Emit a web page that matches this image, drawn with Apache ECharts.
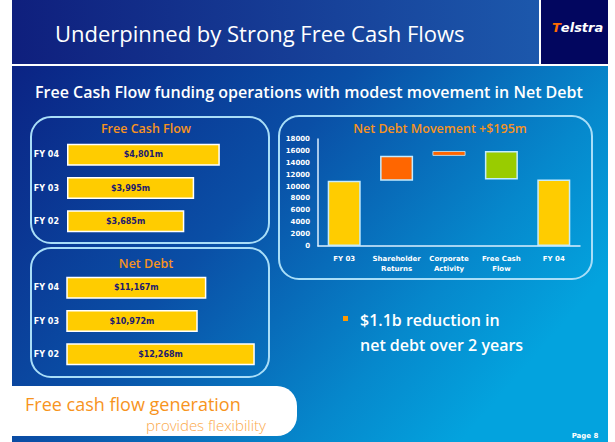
<!DOCTYPE html>
<html>
<head>
<meta charset="utf-8">
<script src="https://cdn.jsdelivr.net/npm/echarts@6/dist/echarts.min.js"></script>
<style>html,body{margin:0;padding:0;background:#fff}#c{width:615px;height:442px}</style>
</head>
<body>
<div id="c"></div>
<script>
// ---- data ----
const fcfCategories = ['FY 02', 'FY 03', 'FY 04'];
const fcfValues = [3685, 3995, 4801];
const netDebtCategories = ['FY 02', 'FY 03', 'FY 04'];
const netDebtValues = [12268, 10972, 11167];
const wfCategories = ['FY 03', 'Shareholder\nReturns', 'Corporate\nActivity', 'Free Cash\nFlow', 'FY 04'];
const wfValues = [10972, 4200, 796, 4801, 11167];
const wfKinds = ['total', 'increase', 'increase', 'decrease', 'total'];
const wfColors = ['#FFCC00', '#FF6600', '#FF6600', '#99CC00', '#FFCC00'];
const wfTicks = { min: 0, max: 18000, interval: 2000 };

// waterfall base from running total
const wfBase = [];
let running = 0;
wfValues.forEach((v, i) => {
  if (wfKinds[i] === 'total') { wfBase.push(0); running = v; }
  else if (wfKinds[i] === 'increase') { wfBase.push(running); running += v; }
  else { running -= v; wfBase.push(running); }
});

const money = v => '$' + v.toLocaleString('en-US') + 'm';
const BOLD = 'DejaVu Sans';
const SANS = 'Open Sans';

const chart = echarts.init(document.getElementById('c'), null, { renderer: 'svg' });

const bgGrad = { type: 'linear', x: 0, y: 0, x2: 1, y2: 0.55, colorStops: [
  { offset: 0, color: '#0b2384' }, { offset: 0.45, color: '#0a4fa6' },
  { offset: 0.8, color: '#0688cc' }, { offset: 1, color: '#03a3de' }] };
const titleGrad = { type: 'linear', x: 0, y: 0, x2: 1, y2: 0, colorStops: [
  { offset: 0, color: '#0f1f7d' }, { offset: 1, color: '#1c58ac' }] };
const panelStroke = { fill: 'none', stroke: '#a9def8', lineWidth: 2 };

function catAxis(grid, data) {
  return { type: 'category', gridIndex: grid, data: data,
    axisLine: { show: false }, axisTick: { show: false },
    axisLabel: { color: '#fff', fontFamily: BOLD, fontWeight: 'bold', fontSize: 8, margin: 8 } };
}
function hbar(axisIdx, values) {
  return { type: 'bar', xAxisIndex: axisIdx, yAxisIndex: axisIdx, data: values, barWidth: 22,
    itemStyle: { color: '#FFCC00', borderColor: '#ffffff', borderWidth: 1.5 },
    label: { show: true, position: 'inside', formatter: p => money(p.value),
      color: '#221a6e', fontFamily: BOLD, fontWeight: 'bold', fontSize: 8 } };
}

const option = {
  animation: false,
  backgroundColor: '#ffffff',
  graphic: [
    { type: 'rect', z: -10, shape: { x: 12, y: 0, width: 527, height: 64 }, style: { fill: titleGrad } },
    { type: 'rect', z: -10, shape: { x: 541, y: 0, width: 67, height: 64 }, style: { fill: '#02065f' } },
    { type: 'rect', z: -10, shape: { x: 12, y: 66, width: 596, height: 376 }, style: { fill: bgGrad } },
    { type: 'rect', z: -5, shape: { x: 31, y: 117, width: 238, height: 126, r: 20 }, style: panelStroke },
    { type: 'rect', z: -5, shape: { x: 31, y: 248, width: 238, height: 129, r: 20 }, style: panelStroke },
    { type: 'rect', z: -5, shape: { x: 279, y: 116, width: 313, height: 163, r: 20 }, style: panelStroke },
    { type: 'rect', z: -5, shape: { x: 12, y: 386, width: 285, height: 50, r: [0, 20, 20, 0] }, style: { fill: '#ffffff' } },
    { type: 'text', z: 10, style: { text: 'Underpinned by Strong Free Cash Flows', x: 55, y: 33,
      fill: '#ffffff', fontFamily: SANS, fontSize: 22, verticalAlign: 'middle' } },
    { type: 'text', z: 10, style: { text: '{t|T}{e|elstra}', x: 552, y: 27, verticalAlign: 'middle',
      fontFamily: 'DejaVu Sans', fontSize: 13, fontWeight: 'bold', fontStyle: 'italic',
      rich: { t: { fill: '#FF6a00', fontSize: 13, fontWeight: 'bold', fontStyle: 'italic', fontFamily: 'DejaVu Sans' },
              e: { fill: '#ffffff', fontSize: 13, fontWeight: 'bold', fontStyle: 'italic', fontFamily: 'DejaVu Sans' } } } },
    { type: 'text', z: 10, style: { text: 'Free Cash Flow funding operations with modest movement in Net Debt', x: 35, y: 92,
      fill: '#ffffff', fontFamily: SANS, fontWeight: 600, fontSize: 16, verticalAlign: 'middle' } },
    { type: 'text', z: 10, style: { text: 'Free Cash Flow', x: 146, y: 128, align: 'center', verticalAlign: 'middle',
      fill: '#F7931E', fontFamily: SANS, fontWeight: 600, fontSize: 12.5 } },
    { type: 'text', z: 10, style: { text: 'Net Debt', x: 146, y: 263, align: 'center', verticalAlign: 'middle',
      fill: '#F7931E', fontFamily: SANS, fontWeight: 600, fontSize: 12.5 } },
    { type: 'text', z: 10, style: { text: 'Net Debt Movement +$195m', x: 440, y: 128, align: 'center', verticalAlign: 'middle',
      fill: '#F7931E', fontFamily: SANS, fontWeight: 600, fontSize: 12.5 } },
    { type: 'rect', z: 10, shape: { x: 343, y: 316, width: 5, height: 5 }, style: { fill: '#FF9900' } },
    { type: 'text', z: 10, style: { text: '$1.1b reduction in', x: 360, y: 320, verticalAlign: 'middle',
      fill: '#ffffff', fontFamily: SANS, fontWeight: 600, fontSize: 16 } },
    { type: 'text', z: 10, style: { text: 'net debt over 2 years', x: 360, y: 345, verticalAlign: 'middle',
      fill: '#ffffff', fontFamily: SANS, fontWeight: 600, fontSize: 16 } },
    { type: 'text', z: 10, style: { text: 'Free cash flow generation', x: 25, y: 404, verticalAlign: 'middle',
      fill: '#F7941D', fontFamily: SANS, fontSize: 18 } },
    { type: 'text', z: 10, style: { text: 'provides flexibility', x: 266, y: 425, align: 'right', verticalAlign: 'middle',
      fill: '#FBA94A', fontFamily: SANS, fontWeight: 300, fontSize: 15 } },
    { type: 'text', z: 10, style: { text: 'Page 8', x: 585, y: 436, align: 'center', verticalAlign: 'middle',
      fill: '#ffffff', fontFamily: BOLD, fontWeight: 'bold', fontSize: 7 } }
  ],
  grid: [
    { left: 67, top: 138, width: 191, height: 100 },
    { left: 67, top: 271, width: 198, height: 100 },
    { left: 318, top: 139, width: 262, height: 107 }
  ],
  xAxis: [
    { type: 'value', gridIndex: 0, min: 0, max: 6000, show: false },
    { type: 'value', gridIndex: 1, min: 8000, max: 12500, show: false },
    { type: 'category', gridIndex: 2, data: wfCategories,
      axisLine: { lineStyle: { color: '#dcefff', width: 1.5 } }, axisTick: { show: false },
      axisLabel: { color: '#fff', fontFamily: BOLD, fontWeight: 'bold', fontSize: 7, margin: 8, lineHeight: 10, interval: 0 } }
  ],
  yAxis: [
    catAxis(0, fcfCategories),
    catAxis(1, netDebtCategories),
    { type: 'value', gridIndex: 2, min: wfTicks.min, max: wfTicks.max, interval: wfTicks.interval,
      axisLine: { show: true, lineStyle: { color: '#dcefff', width: 1.5 } }, axisTick: { show: false },
      splitLine: { show: false },
      axisLabel: { color: '#fff', fontFamily: BOLD, fontWeight: 'bold', fontSize: 7, margin: 8,
        formatter: v => String(v) } }
  ],
  series: [
    hbar(0, fcfValues),
    hbar(1, netDebtValues),
    { type: 'bar', xAxisIndex: 2, yAxisIndex: 2, stack: 'wf', data: wfBase, barWidth: 33,
      itemStyle: { color: 'rgba(0,0,0,0)' }, silent: true },
    { type: 'bar', xAxisIndex: 2, yAxisIndex: 2, stack: 'wf', barWidth: 33,
      data: wfValues.map((v, i) => ({ value: v,
        itemStyle: { color: wfColors[i], borderWidth: v < 1000 ? 0.8 : 1.5 } })),
      itemStyle: { borderColor: '#c4ecff', borderWidth: 1.5 } }
  ]
};
chart.setOption(option);
</script>
</body>
</html>
